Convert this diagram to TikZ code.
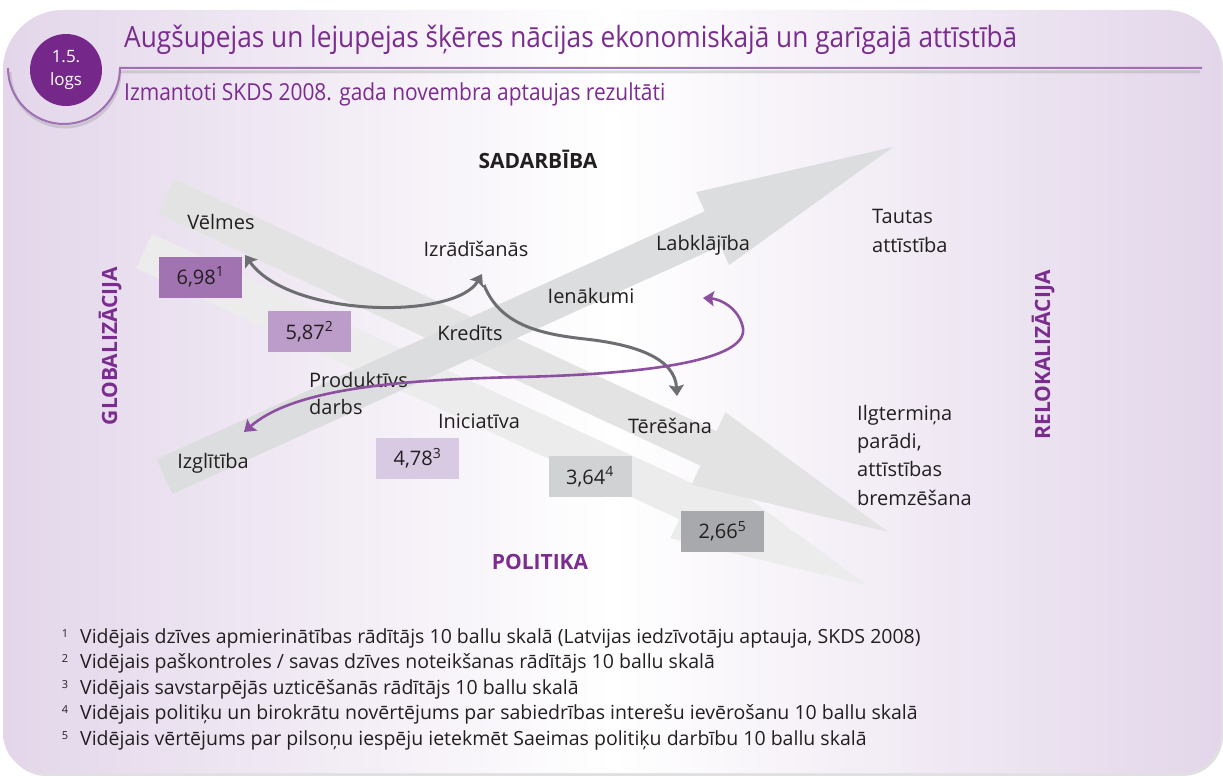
\documentclass[tikz,border=0pt]{standalone}
\usepackage{fontspec}
\setmainfont{Open Sans}
\newfontfamily\condfont[FakeStretch=0.895]{Open Sans}
\usetikzlibrary{calc, arrows.meta, positioning}

\definecolor{titlepurple}{HTML}{7B2C8F}
\definecolor{badgepurple}{HTML}{76288A}
\definecolor{linepurple}{HTML}{A070B5}
\definecolor{panelpurple}{HTML}{E3D6EA}
\definecolor{linkgray}{HTML}{6D6E71}
\definecolor{linkpurple}{HTML}{8D4FA0}
\definecolor{ink}{HTML}{231F20}
\definecolor{scoreone}{HTML}{A174B1}
\definecolor{scoretwo}{HTML}{BC9CC9}
\definecolor{scorethree}{HTML}{D9CAE3}
\definecolor{scorefour}{HTML}{D1D2D4}
\definecolor{scorefive}{HTML}{A7A9AC}
\definecolor{bandup}{HTML}{DCDDDE}
\definecolor{bandhigh}{HTML}{E3E3E4}
\definecolor{bandlow}{HTML}{ECECED}

% wide flat arrow: colour, tail, tip
\newcommand{\bandarrow}[3]{%
    \coordinate (#2-BASE) at ($(#3)!198pt!(#2)$);
    \fill[#1] ($(#2)!19pt!90:(#3)$) -- ($(#2-BASE)!19pt!-90:(#2)$) -- ($(#2-BASE)!40pt!-90:(#2)$)
        -- (#3) -- ($(#2-BASE)!40pt!90:(#2)$) -- ($(#2-BASE)!19pt!90:(#2)$) -- ($(#2)!19pt!-90:(#3)$) -- cycle;
}

\tikzset{
    my-label/.style={
        inner sep=0pt, text=ink, font=\fontsize{20}{28}\selectfont
    },
    my-stack/.style={
        my-label, align=left
    },
    my-axis/.style={
        inner sep=0pt, text=titlepurple, font=\bfseries\fontsize{21}{24}\selectfont
    },
    my-score/.style={
        fill=#1, minimum width=83pt, minimum height=41pt, inner sep=0pt,
        text=ink, font=\fontsize{20}{24}\selectfont
    },
    my-link/.style={
        line width=3pt, draw=linkgray
    },
    my-link-both/.style={
        my-link, {Stealth[length=11pt, width=15pt, inset=2pt]}-{Stealth[length=11pt, width=15pt, inset=2pt]}
    },
    my-link-end/.style={
        my-link, -{Stealth[length=11pt, width=15pt, inset=2pt]}
    },
    my-note/.style={
        inner sep=0pt, text=ink, font=\fontsize{19.5}{22}\selectfont
    },
}

\begin{document}
\begin{tikzpicture}[x=1pt, y=-1pt]

        \useasboundingbox (0,0) rectangle (1223,776);

        % PANEL
        \fill[black, opacity=.12] (6,400) [rounded corners=60pt] -- (6,13) -- (600,13) [rounded corners=55pt] -- (1223,13)
            -- (1223,400) [rounded corners=40pt] -- (1223,776) -- (6,776) -- (6,400) -- cycle;
        \shade[left color=panelpurple, right color=panelpurple, middle color=white] (3,400) [rounded corners=60pt] -- (3,10)
            -- (600,10) [rounded corners=55pt] -- (1221,10) -- (1221,400) [rounded corners=40pt] -- (1221,773) -- (3,773) -- (3,400) -- cycle;

        % BADGE AND TITLE LINE
        \draw[black!40, opacity=.35, line width=3pt] (10,72) arc[start angle=180, end angle=0, radius=55] -- (1200,72);
        \draw[linepurple, line width=2pt] (8,68) arc[start angle=180, end angle=0, radius=56] -- (1202,68);
        \node[circle, fill=badgepurple, minimum size=72pt, inner sep=0pt, text=white, align=center,
              font=\fontsize{17}{23}\selectfont] (BADGE) at (66,70) {1.5.\\logs};

        % TITLES
        \node[anchor=base west, inner sep=0pt, text=titlepurple, font=\condfont\fontsize{29.3}{32}\selectfont]
            (TITLE) at (124,48) {Augšupejas un lejupejas šķēres nācijas ekonomiskajā un garīgajā attīstībā};
        \node[anchor=base west, inner sep=0pt, text=titlepurple, font=\condfont\fontsize{23.4}{28}\selectfont]
            (SUBTITLE) at (124,100) {Izmantoti SKDS 2008. gada novembra aptaujas rezultāti};

        % BIG ARROWS
        \coordinate (LOWTAIL)  at (144,251);
        \coordinate (LOWTIP)   at (867,585);
        \coordinate (HIGHTAIL) at (166,196);
        \coordinate (HIGHTIP)  at (888,532);
        \coordinate (UPTAIL)   at (164.5,476.5);
        \coordinate (UPTIP)    at (893,147);
        \bandarrow{bandlow}{LOWTAIL}{LOWTIP}
        \bandarrow{bandhigh}{HIGHTAIL}{HIGHTIP}
        \bandarrow{bandup}{UPTAIL}{UPTIP}

        % AXIS WORDS
        \node[my-axis, text=ink, anchor=base] (SADARBIBA) at (538,168) {SADARBĪBA};
        \node[my-axis, anchor=base]           (POLITIKA)  at (540,569) {POLITIKA};
        \node[my-axis, anchor=base, rotate=90] (GLOBAL)   at (117,346) {GLOBALIZĀCIJA};
        \node[my-axis, anchor=base, rotate=90] (RELOKAL)  at (1050,355) {RELOKALIZĀCIJA};

        % SCORES
        \node[my-score=scoreone]   (SCORE1) at (200.5,277)   {6,98\textsuperscript{1}};
        \node[my-score=scoretwo]   (SCORE2) at (309.5,331.5) {5,87\textsuperscript{2}};
        \node[my-score=scorethree] (SCORE3) at (417.5,458)   {4,78\textsuperscript{3}};
        \node[my-score=scorefour]  (SCORE4) at (590,476.5)   {3,64\textsuperscript{4}};
        \node[my-score=scorefive]  (SCORE5) at (722.5,531.5) {2,66\textsuperscript{5}};

        % WORDS
        \node[my-label, anchor=base] (VELMES)     at (221,229) {Vēlmes};
        \node[my-label, anchor=base] (IZRAD)      at (476,256) {Izrādīšanās};
        \node[my-label, anchor=base] (LABKL)      at (703,250) {Labklājība};
        \node[my-label, anchor=base] (IENAK)      at (591,303) {Ienākumi};
        \node[my-label, anchor=base] (KREDITS)    at (470,340) {Kredīts};
        \node[my-label, anchor=base] (INICIAT)    at (479,428) {Iniciatīva};
        \node[my-label, anchor=base] (IZGLIT)     at (213,468) {Izglītība};
        \node[my-label, anchor=base] (TERES)      at (670,433) {Tērēšana};
        \node[my-stack, anchor=base west, font=\fontsize{20}{27}\selectfont]
            (PRODUKT) at (309,414) {Produktīvs\\darbs};
        \node[my-stack, anchor=base west, font=\fontsize{20}{29}\selectfont]
            (TAUTAS)  at (872,252) {Tautas\\attīstība};
        \node[my-stack, anchor=base west, font=\fontsize{20}{28.3}\selectfont]
            (ILGTERM) at (857,505) {Ilgtermiņa\\parādi,\\attīstības\\bremzēšana};

        % LINK END POINTS
        \coordinate (VELMESIN) at (245,255);
        \coordinate (IZRADIN)  at (482,274);
        \coordinate (IZRADOUT) at (484,285);
        \coordinate (TERESIN)  at (677,396);
        \coordinate (IZGLITIN) at (244,432);
        \coordinate (IENAKIN)  at (703,298);

        % LINKS
        \draw[my-link-both] (VELMESIN) .. controls (290,318) and (455,320) .. (IZRADIN);
        \draw[my-link-end]
            (IZRADOUT) .. controls (500,325) and (540,334) .. (585,339) .. controls (640,345) and (675,360) .. (TERESIN);
        \draw[my-link-both, draw=linkpurple, line width=2.6pt]
            (IZGLITIN) .. controls (290,392) and (380,380) .. (520,377) .. controls (650,374) and (748,360) .. (743,328)
            .. controls (739,308) and (720,299) .. (IENAKIN);

        % NOTES
        \foreach \txt [count=\i] in {
            {Vidējais dzīves apmierinātības rādītājs 10 ballu skalā (Latvijas iedzīvotāju aptauja, SKDS 2008)},
            {Vidējais paškontroles / savas dzīves noteikšanas rādītājs 10 ballu skalā},
            {Vidējais savstarpējās uzticēšanās rādītājs 10 ballu skalā},
            {Vidējais politiķu un birokrātu novērtējums par sabiedrības interešu ievērošanu 10 ballu skalā},
            {Vidējais vērtējums par pilsoņu iespēju ietekmēt Saeimas politiķu darbību 10 ballu skalā}} {
            \node[my-note, anchor=base west] (NOTE\i)    at (80, {617.5+25.5*\i}) {\txt};
            \node[my-note, anchor=base, font=\fontsize{11}{13}\selectfont] (NOTENUM\i) at (65, {611.5+25.5*\i}) {\i};
        }

    \end{tikzpicture}
\end{document}
